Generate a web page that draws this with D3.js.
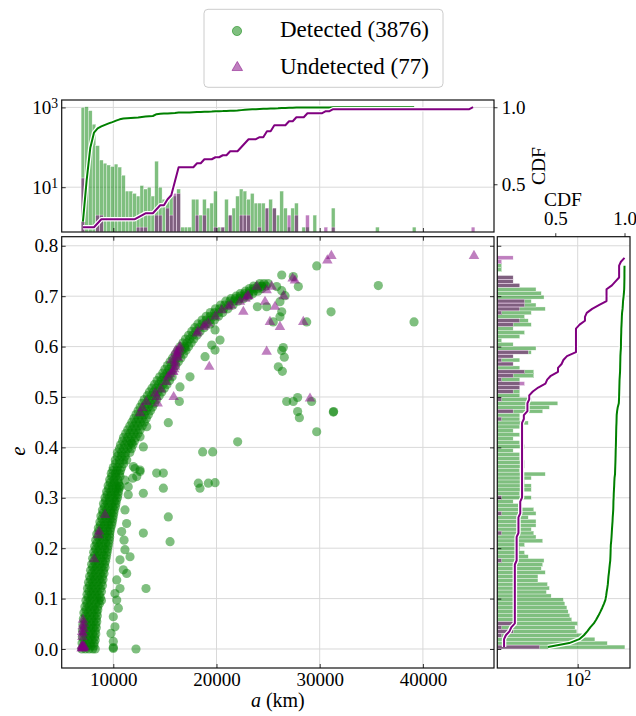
<!DOCTYPE html>
<html>
<head>
<meta charset="utf-8">
<script src="https://cdn.jsdelivr.net/npm/d3@7"></script>
<style>
  body { margin: 0; background: #fff; }
  svg { display: block; font-family: "Liberation Serif", "DejaVu Serif", serif; }
</style>
</head>
<body>
<div id="chart"></div>
<script>
// ---- data ----
const seriesNames = ["Detected (3876)", "Undetected (77)"];
const aTicks = [10000, 20000, 30000, 40000];
const eTicks = [0, 0.1, 0.2, 0.3, 0.4, 0.5, 0.6, 0.7, 0.8];
const cdfTicks = [0.5, 1.0];
const topCountTicks = [10, 1000];
const sideCountTicks = [100];

// histogram bins (a in km, e)
const aBinLo = 6880, aBinHi = 45040, aBinCount = 107;
const eBinLo = 0, eBinHi = 0.78, eBinCount = 100;

// counts per a-bin
const detectedPerA = [
  1000, 1040, 830, 380, 110, 48, 40, 36, 33, 38,
  32, 20, 8, 8, 7, 6, 11, 9, 10, 6,
  45, 10, 5, 5, 6, 6, 9, 1, 1, 1,
  5, 5, 2, 5, 3, 4, 8, 1, 1, 5,
  2, 3, 6, 9, 8, 5, 7, 4, 4, 4,
  3, 5, 3, 2, 8, 3, 1, 3, 4, 0,
  1, 1, 0, 2, 0, 0, 0, 0, 3, 0,
  0, 0, 0, 0, 0, 0, 0, 0, 0, 0,
  1, 0, 0, 0, 0, 0, 0, 0, 0, 0,
  1, 0, 0, 0, 0, 0, 0, 0, 0, 0,
  0, 0, 0, 0, 0, 0, 0
];
const undetectedPerA = [
  17, 0, 0, 0, 2, 2, 0, 0, 0, 0,
  0, 0, 0, 0, 0, 1, 1, 1, 0, 0,
  2, 2, 0, 3, 2, 7, 7, 0, 0, 0,
  0, 2, 0, 2, 0, 0, 1, 0, 1, 0,
  2, 0, 0, 2, 2, 2, 0, 0, 1, 0,
  3, 0, 3, 0, 0, 0, 2, 0, 2, 0,
  0, 2, 0, 0, 0, 0, 1, 0, 1, 0,
  0, 0, 0, 0, 0, 0, 0, 0, 0, 0,
  0, 0, 0, 0, 0, 0, 0, 0, 0, 0,
  0, 0, 0, 0, 0, 0, 0, 0, 0, 0,
  0, 0, 0, 0, 0, 0, 1
];

// counts per e-bin
const detectedPerE = [
  1750, 600, 284, 130, 95, 85, 100, 70, 62, 56,
  52, 46, 42, 20, 15, 18, 16, 9, 9, 14,
  11, 12, 13, 5, 4, 3, 4, 12, 8, 7,
  6, 8, 8, 5, 8, 7, 3, 2, 6, 3,
  6, 6, 4, 6, 14, 3, 4, 4, 3, 3,
  2, 4, 3, 2, 3, 2, 3, 5, 3, 3,
  12, 18, 30, 6, 3, 3, 3, 3, 3, 7,
  7, 3, 2, 3, 2, 6, 8, 2, 1, 3,
  4, 2, 6, 5, 4, 6, 14, 8, 6, 13,
  11, 8, 3, 2, 2, 0, 1, 1, 0, 0
];
const undetectedPerE = [
  10, 0, 0, 1, 2, 1, 2, 0, 0, 0,
  0, 0, 0, 0, 0, 0, 0, 0, 0, 0,
  0, 0, 1, 0, 0, 0, 0, 0, 0, 1,
  0, 0, 0, 0, 1, 0, 0, 0, 1, 0,
  0, 0, 0, 0, 0, 0, 0, 0, 0, 0,
  0, 0, 0, 0, 0, 0, 0, 0, 1, 0,
  2, 0, 0, 1, 0, 2, 3, 4, 1, 2,
  4, 0, 2, 1, 2, 5, 0, 0, 0, 0,
  0, 0, 2, 3, 0, 1, 3, 4, 4, 0,
  0, 0, 3, 2, 2, 0, 0, 0, 1, 2
];

// detected objects: dense low-e band, rows of [e, a values]
const detectedBandRows = [
  [0.000, [6950, 7300, 7650, 8000, 8250]],
  [0.006, [7120, 7480, 7830, 8120]],
  [0.012, [6970, 7350, 7750, 8150]],
  [0.018, [7150, 7550, 7950, 8250]],
  [0.024, [7000, 7400, 7800, 8200]],
  [0.030, [7200, 7600, 8000, 8300]],
  [0.036, [7010, 7420, 7820, 8250]],
  [0.042, [7220, 7620, 8050, 8350]],
  [0.048, [7050, 7450, 7850, 8300]],
  [0.054, [7250, 7650, 8080, 8400]],
  [0.060, [7100, 7500, 7900, 8350]],
  [0.066, [7300, 7700, 8150, 8450]],
  [0.072, [7150, 7550, 7950, 8400]],
  [0.078, [7350, 7750, 8180, 8500]],
  [0.084, [7250, 7650, 8050, 8500]],
  [0.090, [7450, 7850, 8300, 8650]],
  [0.096, [7350, 7750, 8150, 8600, 8850]],
  [0.102, [7550, 7950, 8400, 8750]],
  [0.108, [7450, 7850, 8250, 8650]],
  [0.114, [7650, 8050, 8450, 8850]],
  [0.120, [7500, 7900, 8300, 8750]],
  [0.126, [7700, 8100, 8550, 8950]],
  [0.132, [7600, 8000, 8400, 8850]],
  [0.138, [7800, 8200, 8650, 9000]],
  [0.144, [7700, 8100, 8500, 8950]],
  [0.150, [7900, 8300, 8750, 9100]],
  [0.156, [7800, 8200, 8600, 9050]],
  [0.162, [8000, 8400, 8850, 9200]],
  [0.168, [7900, 8300, 8700, 9150]],
  [0.174, [8100, 8500, 8950, 9250]],
  [0.180, [8000, 8400, 8800, 9300]],
  [0.186, [8200, 8600, 9050, 9350]],
  [0.192, [8100, 8500, 8900, 9400]],
  [0.198, [8300, 8700, 9150, 9450]],
  [0.204, [8200, 8600, 9000, 9500]],
  [0.210, [8400, 8800, 9250, 9550]],
  [0.216, [8300, 8700, 9100, 9600]],
  [0.222, [8500, 8900, 9350, 9650]],
  [0.228, [8400, 8800, 9200, 9650]],
  [0.234, [8600, 9000, 9450, 9700]],
  [0.240, [8550, 8950, 9350, 9750]],
  [0.246, [8750, 9150, 9550, 9850]],
  [0.252, [8700, 9100, 9500, 9900]],
  [0.258, [8900, 9300, 9700, 9950]],
  [0.264, [8800, 9200, 9600, 10000]],
  [0.270, [9000, 9400, 9800, 10050]],
  [0.276, [8950, 9350, 9750, 10100]],
  [0.282, [9150, 9550, 9950, 10200]],
  [0.288, [9050, 9450, 9850, 10250]],
  [0.294, [9250, 9650, 10100, 10300]],
  [0.300, [9200, 9600, 10000, 10400]],
  [0.306, [9400, 9800, 10200, 10450]],
  [0.312, [9350, 9750, 10150, 10500]],
  [0.318, [9550, 9950, 10300, 10550]],
  [0.324, [9500, 9900, 10300, 10600]],
  [0.330, [9700, 10100, 10500]],
  [0.336, [9650, 10050, 10450]],
  [0.342, [9850, 10250, 10650]],
  [0.348, [9800, 10200, 10600]],
  [0.354, [9950, 10350, 10700]]
];
// detected objects: arc towards high e
const detectedArcRows = [
  [0.360, [10000, 10400, 10800]],
  [0.3675, [10200, 10600, 11000]],
  [0.375, [10200, 10600, 11000, 11300]],
  [0.3825, [10400, 10800, 11150]],
  [0.390, [10400, 10800, 11200, 11600]],
  [0.3975, [10600, 11000, 11400, 11750]],
  [0.405, [10700, 11100, 11500, 11900]],
  [0.4125, [10900, 11300, 11700, 12050]],
  [0.420, [11000, 11400, 11800, 12200]],
  [0.4275, [11200, 11600, 12000, 12400]],
  [0.435, [11400, 11800, 12200, 12600]],
  [0.4425, [11600, 12000, 12400, 12800]],
  [0.450, [11800, 12200, 12600, 13000]],
  [0.4575, [12000, 12400, 12800, 13200]],
  [0.465, [12200, 12600, 13000, 13400]],
  [0.4725, [12400, 12800, 13200, 13600]],
  [0.480, [12600, 13000, 13400, 13800]],
  [0.4875, [12800, 13200, 13600, 14000]],
  [0.495, [13000, 13400, 13800, 14200]],
  [0.5025, [13300, 13700, 14100, 14450]],
  [0.510, [13500, 13900, 14300, 14700]],
  [0.5175, [13750, 14150, 14550, 14950]],
  [0.525, [14000, 14400, 14800, 15200]],
  [0.5325, [14250, 14650, 15050, 15450]],
  [0.540, [14500, 14900, 15300, 15700]],
  [0.5475, [14800, 15200, 15550]],
  [0.555, [15000, 15400, 15800]],
  [0.5625, [15250, 15650, 16050]],
  [0.570, [15500, 15900, 16300]],
  [0.5775, [15750, 16150, 16550]],
  [0.585, [16000, 16400, 16800]],
  [0.5925, [16250, 16650, 17050]],
  [0.600, [16500, 16900, 17300]],
  [0.6075, [16750, 17150, 17550]],
  [0.615, [17000, 17400, 17800]],
  [0.6225, [17300, 17700, 18100]],
  [0.630, [17600, 18000, 18400]],
  [0.6375, [17900, 18300, 18800]],
  [0.645, [18200, 18600, 19000, 19400]],
  [0.6525, [18600, 19000, 19400, 19800]],
  [0.660, [19000, 19400, 19800, 20200]],
  [0.6675, [19400, 19800, 20200, 20600]],
  [0.675, [19900, 20300, 20700, 21100]],
  [0.6825, [20400, 20800, 21200, 21600]],
  [0.690, [20900, 21300, 21700, 22100]],
  [0.695, [21400, 21800, 22200, 22600]],
  [0.700, [21900, 22300, 22700, 23100]],
  [0.705, [22300, 22700, 23100, 23500]],
  [0.710, [22800, 23200, 23600, 24000]],
  [0.715, [23200, 23600, 24000, 24400]],
  [0.720, [23600, 24000, 24400, 24800]],
  [0.725, [24200, 24600, 25000]]
];
// detected objects: scattered ones [a, e]
const detectedScattered = [
  [29710, 0.760], [35680, 0.721], [39140, 0.649], [31100, 0.669], [27440, 0.739],
  [27930, 0.719], [26320, 0.742], [24380, 0.719], [25830, 0.719], [26320, 0.711],
  [26640, 0.701], [26150, 0.689], [26320, 0.669], [26150, 0.659], [25500, 0.649],
  [24860, 0.679], [23960, 0.679], [28740, 0.649], [26470, 0.598], [26320, 0.592],
  [26570, 0.579], [25990, 0.560], [26380, 0.551], [26800, 0.491], [27440, 0.491],
  [27860, 0.499], [29220, 0.491], [27860, 0.471], [28030, 0.459], [29710, 0.431],
  [31320, 0.470], [31350, 0.471],
  [15330, 0.449], [16400, 0.491], [16460, 0.520], [17430, 0.540], [16950, 0.597],
  [18890, 0.580], [19540, 0.603], [19860, 0.593], [20340, 0.613], [19860, 0.633],
  [22050, 0.411], [18660, 0.391], [19630, 0.391], [12590, 0.421], [11780, 0.408],
  [12910, 0.401], [13240, 0.441], [14200, 0.349], [14850, 0.349], [12590, 0.355],
  [12100, 0.358],
  [18240, 0.329], [19210, 0.329], [19860, 0.330], [18400, 0.319], [14850, 0.319],
  [15330, 0.262], [15500, 0.213], [12910, 0.230], [13170, 0.120], [12200, 0.000],
  [11300, 0.150], [11620, 0.183], [12910, 0.309], [11940, 0.362], [11450, 0.322],
  [10000, 0.001], [10000, 0.003], [10000, 0.015], [9780, 0.031], [10160, 0.044],
  [10000, 0.064], [10490, 0.081], [10330, 0.097], [10160, 0.110], [10650, 0.120],
  [10330, 0.137], [10970, 0.157], [10650, 0.177], [11130, 0.197], [11040, 0.216],
  [10810, 0.233], [11290, 0.249], [11130, 0.276], [11450, 0.306], [10650, 0.322],
  [11130, 0.335], [11880, 0.339], [12270, 0.342], [12590, 0.352]
];
// undetected objects [a, e]
const undetectedPoints = [
  [6930, 0.001], [6980, 0.003], [7020, 0.002], [7060, 0.005], [7100, 0.001],
  [7150, 0.004], [6950, 0.006], [7000, 0.007], [7080, 0.003], [7200, 0.005],
  [7000, 0.024], [7050, 0.031], [6980, 0.034], [7100, 0.040], [7030, 0.045],
  [7120, 0.050], [7060, 0.058],
  [8150, 0.178], [8550, 0.226], [8620, 0.233], [9200, 0.266],
  [12590, 0.468], [12800, 0.478], [13200, 0.490],
  [14200, 0.500], [14050, 0.507], [14600, 0.515], [14300, 0.487],
  [15100, 0.530], [15300, 0.540], [15500, 0.545], [15650, 0.573], [15750, 0.550],
  [15810, 0.550], [15900, 0.555], [15980, 0.560], [16000, 0.570], [16100, 0.580],
  [16140, 0.587], [16300, 0.590], [16200, 0.585], [15850, 0.500], [16050, 0.592],
  [16400, 0.595], [15950, 0.565], [16250, 0.578], [16450, 0.600],
  [18100, 0.626], [18200, 0.630], [18720, 0.639], [18900, 0.642],
  [19210, 0.646], [19900, 0.660], [20500, 0.672], [21140, 0.679], [21400, 0.682],
  [22280, 0.689], [22600, 0.669], [22800, 0.695], [23000, 0.700], [23100, 0.700],
  [19300, 0.560], [23900, 0.719], [24700, 0.689], [24860, 0.712], [24860, 0.590],
  [25350, 0.719], [25180, 0.649], [25670, 0.679], [26500, 0.700], [26150, 0.639],
  [27380, 0.735], [27600, 0.731], [28410, 0.649], [29060, 0.497],
  [30740, 0.771], [31130, 0.780], [44950, 0.780]
];

// ---- layout ----
const W = 636, H = 716;
const mainBox = { left: 61.7, right: 494, top: 236.7, bottom: 668 };
const topBox = { left: 61.7, right: 494, top: 100, bottom: 232 };
const sideBox = { left: 497.3, right: 630, top: 236.7, bottom: 668 };
const GREEN = "#008000", PURPLE = "#800080", GRID = "#d9d9d9";

const svg = d3.select("#chart").append("svg").attr("width", W).attr("height", H);

const x = d3.scaleLinear().domain([5000, 46890]).range([mainBox.left, mainBox.right]);
const y = d3.scaleLinear().domain([-0.0377, 0.818]).range([mainBox.bottom, mainBox.top]);
const topCount = d3.scaleLog().domain([0.753, 1535]).range([topBox.bottom, topBox.top]);
const topCdf = d3.scaleLinear().domain([0.19, 1.047]).range([topBox.bottom, topBox.top]);
const sideCount = d3.scaleLog().domain([0.766, 2378]).range([sideBox.left, sideBox.right]);
const sideCdf = d3.scaleLinear().domain([0.081, 1.0397]).range([sideBox.left, sideBox.right]);

const aEdges = d3.range(aBinCount + 1).map(i => aBinLo + i * (aBinHi - aBinLo) / aBinCount);
const eEdges = d3.range(eBinCount + 1).map(i => eBinLo + i * (eBinHi - eBinLo) / eBinCount);

function cdfOf(counts) {
  const total = d3.sum(counts);
  const last = d3.max(counts, (c, i) => c > 0 ? i : -1);
  return Array.from(d3.cumsum(counts), v => v / total).slice(0, last + 1);
}

function gridLines(g, box, xVals, xs, yVals, ys) {
  g.append("g").selectAll("line").data(xVals).join("line")
    .attr("x1", d => xs(d)).attr("x2", d => xs(d))
    .attr("y1", box.top).attr("y2", box.bottom)
    .attr("stroke", GRID).attr("stroke-width", 1);
  g.append("g").selectAll("line").data(yVals).join("line")
    .attr("x1", box.left).attr("x2", box.right)
    .attr("y1", d => ys(d)).attr("y2", d => ys(d))
    .attr("stroke", GRID).attr("stroke-width", 1);
}

function styleAxis(g) {
  g.attr("font-family", null).attr("font-size", 19);
  g.select(".domain").remove();
  g.selectAll(".tick line").attr("stroke", "#000").attr("stroke-width", 0.8);
  g.selectAll(".tick text").attr("fill", "#000");
}

function powLabels(g) {
  g.selectAll(".tick text").each(function (d) {
    const t = d3.select(this).text("");
    t.append("tspan").text("10");
    t.append("tspan").attr("dy", "-0.45em").attr("font-size", "0.72em")
      .text(Math.round(Math.log10(d)));
  });
}

function frame(box) {
  svg.append("rect")
    .attr("x", box.left).attr("y", box.top)
    .attr("width", box.right - box.left).attr("height", box.bottom - box.top)
    .attr("fill", "none").attr("stroke", "#111").attr("stroke-width", 1.2);
}

function cdfPath(g, pts, color) {
  const line = d3.line().x(d => d[0]).y(d => d[1]);
  g.append("path").attr("d", line(pts)).attr("fill", "none")
    .attr("stroke", "#fff").attr("stroke-width", 4.5).attr("stroke-linejoin", "round");
  g.append("path").attr("d", line(pts)).attr("fill", "none")
    .attr("stroke", color).attr("stroke-width", 2).attr("stroke-linejoin", "round");
}

// ---- main scatter ----
svg.append("clipPath").attr("id", "clip-main").append("rect")
  .attr("x", mainBox.left).attr("y", mainBox.top)
  .attr("width", mainBox.right - mainBox.left).attr("height", mainBox.bottom - mainBox.top);

gridLines(svg.append("g"), mainBox, aTicks, x, eTicks, y);

const detectedPoints = detectedBandRows.concat(detectedArcRows)
  .flatMap(([e, as]) => as.map(a => [a, e]))
  .concat(detectedScattered);

const scatter = svg.append("g").attr("clip-path", "url(#clip-main)");
scatter.selectAll("circle").data(detectedPoints).join("circle")
  .attr("cx", d => x(d[0])).attr("cy", d => y(d[1])).attr("r", 4.6)
  .attr("fill", GREEN).attr("fill-opacity", 0.5);

const tri = d3.symbol(d3.symbolTriangle, 48);
scatter.selectAll("path.tri").data(undetectedPoints).join("path")
  .attr("class", "tri")
  .attr("transform", d => `translate(${x(d[0])},${y(d[1])})`)
  .attr("d", tri).attr("fill", PURPLE).attr("fill-opacity", 0.5);

frame(mainBox);

svg.append("g").attr("transform", `translate(0,${mainBox.bottom})`)
  .call(d3.axisBottom(x).tickValues(aTicks).tickSize(-4).tickPadding(4.5).tickFormat(d3.format("d")))
  .call(styleAxis);
svg.append("g").attr("transform", `translate(${mainBox.left},0)`)
  .call(d3.axisLeft(y).tickValues(eTicks).tickSize(-4).tickPadding(3.5).tickFormat(d3.format(".1f")))
  .call(styleAxis);
svg.append("g").attr("transform", `translate(0,${mainBox.top})`)
  .call(d3.axisTop(x).tickValues(aTicks).tickSize(-4).tickFormat(""))
  .call(styleAxis);
svg.append("g").attr("transform", `translate(${mainBox.right},0)`)
  .call(d3.axisRight(y).tickValues(eTicks).tickSize(-4).tickFormat(""))
  .call(styleAxis);

svg.append("text").attr("transform", "translate(25,451) rotate(-90)")
  .attr("text-anchor", "middle").attr("font-size", 21).attr("font-style", "italic").text("e");
const xl = svg.append("text").attr("x", (mainBox.left + mainBox.right) / 2).attr("y", 707)
  .attr("text-anchor", "middle").attr("font-size", 20);
xl.append("tspan").attr("font-style", "italic").text("a");
xl.append("tspan").text(" (km)");

// ---- top histogram of a ----
const topG = svg.append("g");
gridLines(topG, topBox, aTicks, x, topCountTicks, topCount);

[[detectedPerA, GREEN], [undetectedPerA, PURPLE]].forEach(([counts, color]) => {
  topG.append("g").selectAll("rect")
    .data(counts.map((c, i) => ({ c, i })).filter(d => d.c > 0))
    .join("rect")
    .attr("x", d => x(aEdges[d.i]))
    .attr("width", d => x(aEdges[d.i + 1]) - x(aEdges[d.i]))
    .attr("y", d => topCount(d.c))
    .attr("height", d => topBox.bottom - topCount(d.c))
    .attr("fill", color).attr("fill-opacity", 0.5)
    .attr("stroke", "#fff").attr("stroke-width", 0.35);
});

[[detectedPerA, GREEN], [undetectedPerA, PURPLE]].forEach(([counts, color]) => {
  const pts = cdfOf(counts).map((v, i) => [x((aEdges[i] + aEdges[i + 1]) / 2), topCdf(v)]);
  cdfPath(topG, pts, color);
});

frame(topBox);
svg.append("g").attr("transform", `translate(0,${topBox.bottom})`)
  .call(d3.axisBottom(x).tickValues(aTicks).tickSize(-4).tickFormat(""))
  .call(styleAxis);
svg.append("g").attr("transform", `translate(${topBox.left},0)`)
  .call(d3.axisLeft(topCount).tickValues(topCountTicks).tickSize(-4).tickPadding(3.5))
  .call(styleAxis).call(powLabels);
svg.append("g").attr("transform", `translate(${topBox.right},0)`)
  .call(d3.axisRight(topCdf).tickValues(cdfTicks).tickSize(3.5).tickPadding(4.2).tickFormat(d3.format(".1f")))
  .call(styleAxis);
svg.append("text").attr("transform", "translate(545,166) rotate(-90)")
  .attr("text-anchor", "middle").attr("font-size", 19.5).text("CDF");

// ---- side histogram of e ----
const sideG = svg.append("g");
gridLines(sideG, sideBox, sideCountTicks, sideCount, eTicks, y);

[[detectedPerE, GREEN], [undetectedPerE, PURPLE]].forEach(([counts, color]) => {
  sideG.append("g").selectAll("rect")
    .data(counts.map((c, i) => ({ c, i })).filter(d => d.c > 0))
    .join("rect")
    .attr("x", sideBox.left)
    .attr("width", d => sideCount(d.c) - sideBox.left)
    .attr("y", d => y(eEdges[d.i + 1]))
    .attr("height", d => y(eEdges[d.i]) - y(eEdges[d.i + 1]))
    .attr("fill", color).attr("fill-opacity", 0.5)
    .attr("stroke", "#fff").attr("stroke-width", 0.35);
});

[[detectedPerE, GREEN], [undetectedPerE, PURPLE]].forEach(([counts, color]) => {
  const pts = cdfOf(counts).map((v, i) => [sideCdf(v), y((eEdges[i] + eEdges[i + 1]) / 2)]);
  cdfPath(sideG, pts, color);
});

frame(sideBox);
svg.append("g").attr("transform", `translate(${sideBox.left},0)`)
  .call(d3.axisLeft(y).tickValues(eTicks).tickSize(-4).tickFormat(""))
  .call(styleAxis);
svg.append("g").attr("transform", `translate(0,${sideBox.bottom})`)
  .call(d3.axisBottom(sideCount).tickValues(sideCountTicks).tickSize(-4).tickPadding(4.5))
  .call(styleAxis).call(powLabels);
svg.append("g").attr("transform", `translate(0,${sideBox.top})`)
  .call(d3.axisTop(sideCdf).tickValues(cdfTicks).tickSize(3.5).tickPadding(8).tickFormat(d3.format(".1f")))
  .call(styleAxis);
svg.append("text").attr("x", 563).attr("y", 206)
  .attr("text-anchor", "middle").attr("font-size", 19.5).text("CDF");

// ---- legend ----
const lg = svg.append("g");
lg.append("rect").attr("x", 204).attr("y", 9.3).attr("width", 239).attr("height", 78)
  .attr("rx", 4).attr("fill", "#fff").attr("fill-opacity", 0.8)
  .attr("stroke", "#cccccc").attr("stroke-width", 1);
lg.append("circle").attr("cx", 237).attr("cy", 31).attr("r", 4.6)
  .attr("fill", GREEN).attr("fill-opacity", 0.5)
  .attr("stroke", GREEN).attr("stroke-opacity", 0.5).attr("stroke-width", 1);
lg.append("path").attr("transform", "translate(237.3,67.5)").attr("d", tri)
  .attr("fill", PURPLE).attr("fill-opacity", 0.5)
  .attr("stroke", PURPLE).attr("stroke-opacity", 0.5).attr("stroke-width", 1);
lg.selectAll("text").data(seriesNames).join("text")
  .attr("x", 280).attr("y", (d, i) => 37 + i * 37)
  .attr("font-size", 23).text(d => d);
</script>
</body>
</html>
